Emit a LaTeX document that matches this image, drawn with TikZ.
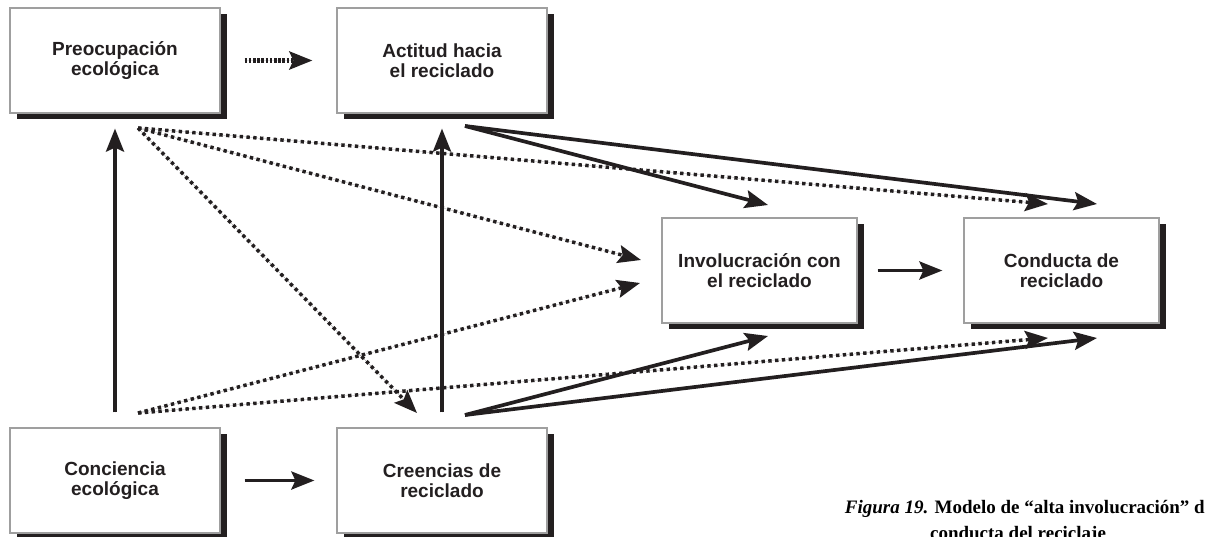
\documentclass[tikz,border=0pt]{standalone}
\usepackage{fontspec}
\setmainfont{Liberation Sans}
\newfontfamily\capfont{Liberation Serif}
\usetikzlibrary{arrows.meta,shadows}
\definecolor{ink}{HTML}{231F20}
\begin{document}
\begin{tikzpicture}[x=1pt,y=-1pt,
  box/.style={draw=gray!75, line width=1.2pt, fill=white, text=ink,
    minimum width=210pt, minimum height=105pt, inner sep=0pt, align=center,
    font=\fontsize{19}{20.5}\selectfont\bfseries,
    drop shadow={shadow xshift=7pt, shadow yshift=-6pt, fill=ink, opacity=1}},
  tip/.style={-{Stealth[length=23pt,width=18pt,inset=4pt]}},
  solidarr/.style={tip, line width=3.7pt, draw=ink, fill=ink},
  dotarr/.style={tip, line width=3.5pt, draw=ink, fill=ink, dash pattern=on 3.4pt off 3.4pt},
  densedot/.style={tip, line width=4.2pt, draw=ink, fill=ink, dash pattern=on 2.6pt off 1.6pt},
  captext/.style={inner sep=0pt, text=black, font=\capfont\fontsize{19}{22}\selectfont\bfseries}]
\useasboundingbox (0,0) rectangle (1206,537);
\fill[white] (0,0) rectangle (1206,537);

% boxes
\node[box] (preo) at (115,60.5) {Preocupación\\ecológica};
\node[box] (act) at (442,60.5) {Actitud hacia\\el reciclado};
\node[box, minimum width=195pt] (inv) at (759.5,270.5) {Involucración con\\el reciclado};
\node[box, minimum width=195pt] (cond) at (1061.5,270.5) {Conducta de\\reciclado};
\node[box] (conc) at (115,480.5) {Conciencia\\ecológica};
\node[box] (cre) at (442,480.5) {Creencias de\\reciclado};

% short arrows between boxes
\draw[densedot, shorten <=24pt, shorten >=24pt] (preo.east) -- (act.west);
\draw[solidarr, shorten <=24pt, shorten >=22pt] (conc.east) -- (cre.west);
\draw[solidarr, shorten <=20pt, shorten >=21pt] (inv.east) -- (cond.west);

% vertical arrows
\draw[solidarr, shorten <=15pt, shorten >=15pt] (conc.north) -- (preo.south);
\draw[solidarr, shorten <=15pt, shorten >=15pt] (cre.north) -- (act.south);

% origins and targets of diagonal connectors
\coordinate (pO) at (138,128);
\coordinate (cO) at (138,413);
\coordinate (aO) at (465,126);
\coordinate (bO) at (465,415);
\coordinate (tCondTopDot) at (1048,204);
\coordinate (tInvUpDot) at (641,260);
\coordinate (tCre) at (417,413);
\coordinate (tInvLoDot) at (640,283);
\coordinate (tCondBotDot) at (1048,338);
\coordinate (tInvTop) at (768,205);
\coordinate (tCondTop) at (1097,204);
\coordinate (tInvBot) at (768,336);
\coordinate (tCondBot) at (1097,338);

% dotted diagonals
\draw[dotarr] (pO) -- (tCondTopDot);
\draw[dotarr] (pO) -- (tInvUpDot);
\draw[dotarr] (pO) -- (tCre);
\draw[dotarr] (cO) -- (tInvLoDot);
\draw[dotarr] (cO) -- (tCondBotDot);

% solid diagonals
\draw[solidarr] (aO) -- (tInvTop);
\draw[solidarr] (aO) -- (tCondTop);
\draw[solidarr] (bO) -- (tInvBot);
\draw[solidarr] (bO) -- (tCondBot);

% caption
\node[captext, anchor=base east] (cap1) at (1205,513) {\textit{Figura 19.} Modelo de “alta involucración” d};
\node[captext, anchor=base] (cap2) at (1018,539) {conducta del reciclaje};
\end{tikzpicture}
\end{document}
